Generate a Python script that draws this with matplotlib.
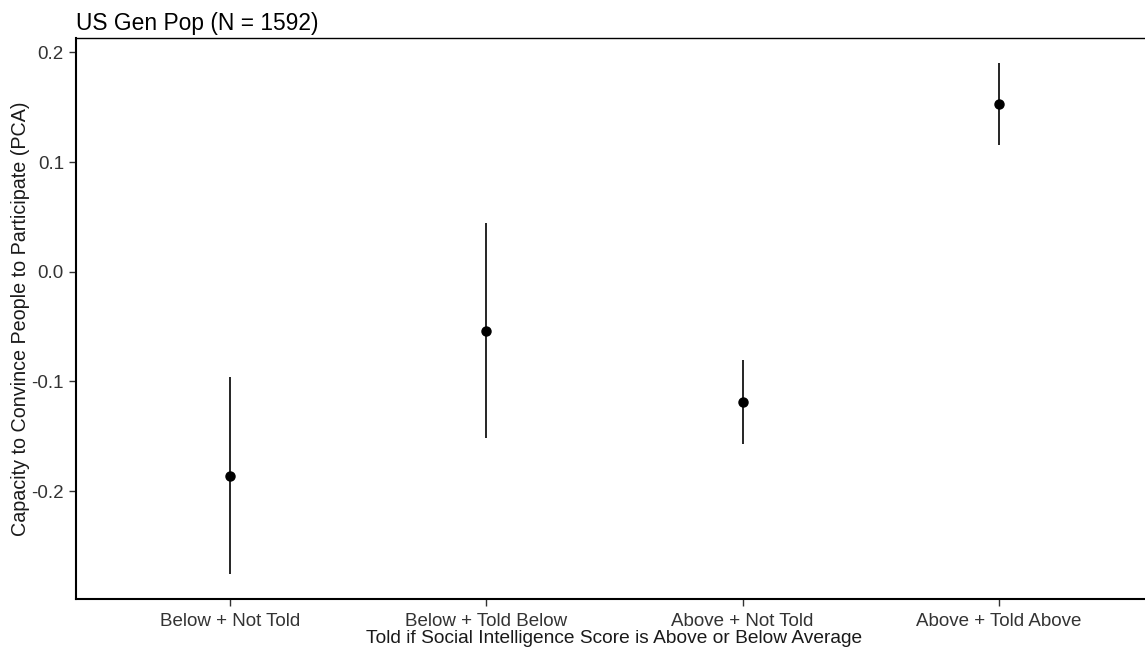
import numpy as np
import matplotlib
matplotlib.use("Agg")
import matplotlib.pyplot as plt

plt.rcParams['font.family'] = ['Liberation Sans', 'DejaVu Sans']

# group means with their confidence limits
groups = ["Below + Not Told", "Below + Told Below", "Above + Not Told", "Above + Told Above"]
means = [-0.186, -0.054, -0.1185, 0.1526]
lower = [-0.2757, -0.1519, -0.1574, 0.1155]
upper = [-0.0963, 0.0447, -0.0805, 0.190]
yticks = [-0.2, -0.1, 0.0, 0.1, 0.2]
yticklabels = ["-0.2", "-0.1", "0.0", "0.1", "0.2"]

W, H = 1145, 654
fig = plt.figure(figsize=(W / 100, H / 100), dpi=100)
left, right, top, bottom = 76.4, 1152.6, 38.3, 599
ax = fig.add_axes([left / W, 1 - bottom / H, (right - left) / W, (bottom - top) / H])

x = np.arange(1, len(groups) + 1)
ax.vlines(x, lower, upper, color="black", lw=1.2)
ax.plot(x, means, "o", color="black", ms=6.5, zorder=3)

ax.set_xlim(0.4, 4.6)
ax.set_ylim(-0.2984, 0.2128)
ax.set_xticks(x)
ax.set_xticklabels(groups)
ax.set_yticks(yticks)
ax.set_yticklabels(yticklabels)

for side in ["left", "bottom"]:
    ax.spines[side].set_linewidth(1.5)
ax.spines["top"].set_linewidth(1.0)
ax.spines["right"].set_linewidth(1.0)

ax.tick_params(axis="both", length=5, width=1.0, color="#333333",
               labelsize=13.5, labelcolor="#333333")
ax.tick_params(axis="x", pad=5)
ax.tick_params(axis="y", pad=4)

ax.set_xlabel("Told if Social Intelligence Score is Above or Below Average",
              fontsize=13.8, color="#1a1a1a", labelpad=0)
ax.set_ylabel("Capacity to Convince People to Participate (PCA)",
              fontsize=14.2, color="#1a1a1a", labelpad=1)
ax.set_title("US Gen Pop (N = 1592)", loc="left", fontsize=16.4, pad=6)

fig.savefig("out.png", dpi=100)
